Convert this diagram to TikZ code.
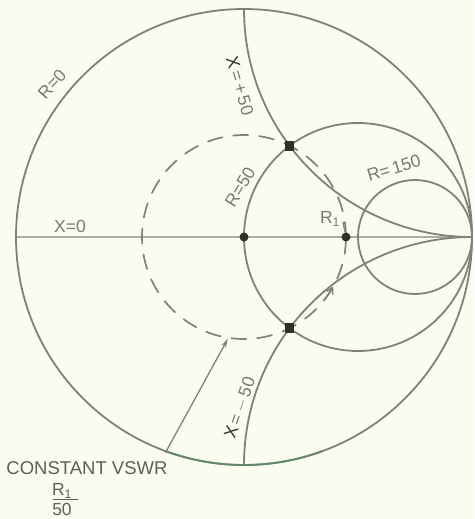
\documentclass[tikz,border=0pt]{standalone}
\usepackage{fontspec}
\setmainfont{Liberation Sans}
\usetikzlibrary{arrows.meta}
\definecolor{bg}{RGB}{250,252,240}
\definecolor{ln}{RGB}{125,131,119}
\definecolor{lnlight}{RGB}{170,174,165}
\definecolor{txt}{RGB}{118,122,112}
\definecolor{txtdk}{RGB}{92,96,87}
\definecolor{dk}{RGB}{45,50,40}
\definecolor{grn}{RGB}{95,135,105}
\begin{document}
\begin{tikzpicture}[x=1pt,y=1pt,line cap=round,
  chart/.style={draw=ln, line width=1.8pt},
  vswr/.style={draw=ln, line width=1.7pt, dash pattern=on 15pt off 11pt},
  lbl/.style={text=txt, font=\fontsize{17.5}{17.5}\selectfont, inner sep=0pt},
  biglbl/.style={text=txtdk, font=\fontsize{18.5}{18.5}\selectfont, inner sep=0pt},
  dotsq/.style={fill=dk, rectangle, minimum size=9.5pt, inner sep=0pt},
  dotc/.style={fill=dk, circle, minimum size=9pt, inner sep=0pt}]
\fill[bg] (0,0) rectangle (474,-519);
\useasboundingbox (0,0) rectangle (474,-519);
\coordinate (O) at (244,-237);
\coordinate (E) at (472,-237);
\coordinate (W) at (16,-237);
% horizontal axis X=0
\draw[lnlight, line width=1.3pt] (W) -- (E);
% outer circle R=0
\draw[chart] (O) circle[radius=228pt];
\draw[grn, line width=1.8pt] ([shift={(250:228pt)}]O) arc[start angle=250, end angle=290, radius=228pt];
% R=50 and R=150
\draw[chart] (358,-237) circle[radius=114pt];
\draw[chart] (415,-237) circle[radius=57pt];
% X=+50 and X=-50
\draw[chart] (244,-9) arc[start angle=180, end angle=270, radius=228pt];
\draw[chart] (E) arc[start angle=90, end angle=180, radius=228pt];
% constant VSWR circle
\draw[vswr] (O) circle[radius=102pt];
\draw[ln, line width=1.5pt, -{Straight Barb[length=6pt,width=7pt]}]
  ([shift={(-37:102pt)}]O) arc[start angle=-37, end angle=-29, radius=102pt];
% pointer arrow
\coordinate (A) at ([shift={(250:229pt)}]O);
\coordinate (B) at ([shift={(261:103pt)}]O);
\draw[ln, line width=1.3pt, -{Stealth[length=9pt,width=5pt]}] (A) -- (B);
% dots
\node[dotc] (c0) at (O) {};
\node[dotsq] (p1) at (289.6,-145.8) {};
\node[dotsq] (p2) at (289.6,-328.2) {};
\node[dotc] (r1) at (346,-237) {};
% labels
\node[lbl, rotate=48] (l0) at (52,-84) {R=0};
\node[lbl] (lx0) at (70,-226) {X=0};
\node[lbl, rotate=-74] (lxp) at (240,-86) {{\color{dk}X}\,=\,+\,50};
\node[lbl, rotate=59] (l50) at (240,-187) {R=50};
\node[lbl, rotate=17] (l150) at (394,-168) {R=\,150};
\node[lbl] (lr1) at (330,-219) {R\textsubscript{1}};
\draw[ln, line width=1.2pt] (343,-222) -- (345,-232);
\node[lbl, rotate=71] (lxm) at (240,-408) {{\color{dk}X}\,=\,$-$\,50};
\node[biglbl] (cv) at (87,-468) {CONSTANT VSWR};
\node[lbl, text=txtdk] (f1) at (62,-491) {R\textsubscript{1}};
\draw[txtdk, line width=1pt] (53,-499) -- (78,-499);
\node[lbl, text=txtdk] (f2) at (62,-509) {50};
\end{tikzpicture}
\end{document}
